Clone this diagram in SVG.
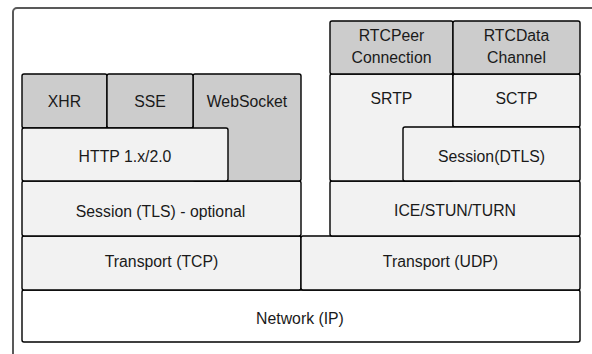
<svg xmlns="http://www.w3.org/2000/svg" width="592" height="354" viewBox="0 0 592 354">
<style>
.frame{fill:#ffffff;stroke:#595959;stroke-width:2}
.api{fill:#cccccc;stroke:#000000;stroke-width:1.4}
.proto{fill:#f2f2f2;stroke:#000000;stroke-width:1.4}
.net{fill:#ffffff;stroke:#000000;stroke-width:1.4}
text{font-family:"Liberation Sans",Arial,sans-serif;font-size:15.8px;fill:#1a1a1a;text-anchor:middle}
</style>
<rect class="frame" x="13" y="8" width="600" height="370" rx="4"/>
<g id="network"><rect class="net" x="22" y="290" width="558" height="52" rx="2"/><text x="300" y="324">Network (IP)</text></g>
<g id="tcp"><rect class="proto" x="22" y="236" width="279" height="54" rx="2"/><text x="161.5" y="267">Transport (TCP)</text></g>
<g id="udp"><rect class="proto" x="301" y="236" width="279" height="54" rx="2"/><text x="440.5" y="267">Transport (UDP)</text></g>
<g id="tls"><rect class="proto" x="22" y="181" width="279" height="55" rx="2"/><text x="160.5" y="217">Session (TLS) - optional</text></g>
<g id="websocket"><rect class="api" x="193" y="74" width="108" height="107" rx="2"/><text x="247" y="107">WebSocket</text></g>
<g id="xhr"><rect class="api" x="22" y="74" width="85" height="54" rx="2"/><text x="64.5" y="107">XHR</text></g>
<g id="sse"><rect class="api" x="107" y="74" width="86" height="54" rx="2"/><text x="150" y="107">SSE</text></g>
<g id="http"><rect class="proto" x="22" y="128" width="206" height="53" rx="2"/><text x="125" y="161.5">HTTP 1.x/2.0</text></g>
<g id="ice"><rect class="proto" x="330" y="181" width="250" height="55" rx="2"/><text x="455" y="216">ICE/STUN/TURN</text></g>
<g id="srtp"><rect class="proto" x="330" y="74" width="123" height="107" rx="2"/><text x="391.5" y="103.5">SRTP</text></g>
<g id="sctp"><rect class="proto" x="453" y="74" width="127" height="53" rx="2"/><text x="516.5" y="103.5">SCTP</text></g>
<g id="dtls"><rect class="proto" x="403" y="127" width="177" height="54" rx="2"/><text x="491.5" y="161.5">Session(DTLS)</text></g>
<g id="rtcpeer"><rect class="api" x="330" y="21" width="123" height="53" rx="2"/><text x="391.5" y="41">RTCPeer</text><text x="391.5" y="63">Connection</text></g>
<g id="rtcdata"><rect class="api" x="453" y="21" width="127" height="53" rx="2"/><text x="516.5" y="41">RTCData</text><text x="516.5" y="63">Channel</text></g>
<g id="connectors"></g>
</svg>
